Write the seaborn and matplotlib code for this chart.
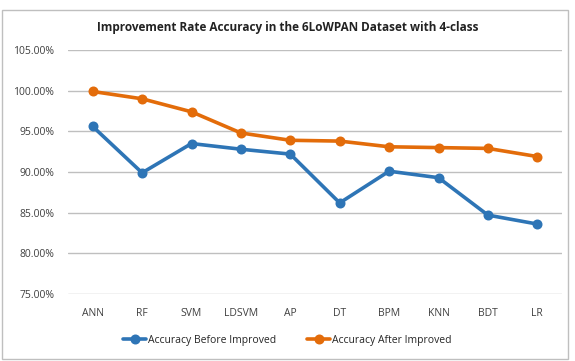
import numpy as np
import pandas as pd
import matplotlib
matplotlib.use('Agg')
import matplotlib.pyplot as plt
import seaborn as sns
from matplotlib.patches import Rectangle
from matplotlib.ticker import FuncFormatter

# data
models = ['ANN', 'RF', 'SVM', 'LDSVM', 'AP', 'DT', 'BPM', 'KNN', 'BDT', 'LR']
acc_before = [95.6, 89.9, 93.5, 92.8, 92.2, 86.2, 90.1, 89.3, 84.7, 83.6]
acc_after = [99.9, 99.0, 97.4, 94.8, 93.9, 93.8, 93.1, 93.0, 92.9, 91.9]
series_names = ['Accuracy Before Improved', 'Accuracy After Improved']
colors = ['#2E75B6', '#E36C0A']

df = pd.DataFrame({
    'model': models * 2,
    'accuracy': acc_before + acc_after,
    'series': [series_names[0]] * len(models) + [series_names[1]] * len(models),
})
df['pos'] = list(range(len(models))) * 2

sns.set_style('white')
plt.rcParams['font.family'] = ['Open Sans', 'DejaVu Sans']

fig = plt.figure(figsize=(5.75, 3.61), dpi=100)
ax = fig.add_axes([68 / 575, 1 - 294 / 361, 494 / 575, 244 / 361])

sns.lineplot(data=df, x='pos', y='accuracy', hue='series', palette=colors,
             marker='o', markersize=6, linewidth=2.6, markeredgewidth=1.2,
             ax=ax, legend=True)

# Excel-style markers: edge in the line colour, slightly lighter fill
for ln in ax.lines:
    c = ln.get_color()
    ln.set_markeredgecolor(c)

ax.set_xlim(-0.5, len(models) - 0.5)
ax.set_ylim(75, 105)
ax.set_yticks(np.arange(75, 105.1, 5))
ax.yaxis.set_major_formatter(FuncFormatter(lambda v, p: f'{v:.2f}%'))
ax.set_xticks(range(len(models)))
ax.set_xticklabels(models)
ax.tick_params(axis='both', labelsize=7.5, colors='#404040', length=0, pad=10)
ax.grid(axis='y', color='#BFBFBF', linewidth=1)
ax.set_axisbelow(True)
for s in ax.spines.values():
    s.set_visible(False)
ax.set_xlabel('')
ax.set_ylabel('')

handles, labels = ax.get_legend_handles_labels()
for h in handles:
    h.set_markeredgecolor(h.get_color())
ax.legend_.remove()
fig.legend(handles, labels, loc='center', bbox_to_anchor=(0.5, 1 - 340 / 361),
           ncol=2, frameon=False, fontsize=7.5, handlelength=2.2,
           handletextpad=0.2, columnspacing=3)

fig.text(0.5, 1 - 27 / 361,
         'Improvement Rate Accuracy in the 6LoWPAN Dataset with 4-class',
         ha='center', va='center', fontsize=8.5, fontweight='bold', color='#222222')

# chart area border
fig.patches.append(Rectangle((2 / 575, 0.005), 566 / 575, 1 - 10 / 361 - 0.005,
                             transform=fig.transFigure, fill=False,
                             edgecolor='#BFBFBF', linewidth=1))

fig.savefig('out.png', dpi=100)
